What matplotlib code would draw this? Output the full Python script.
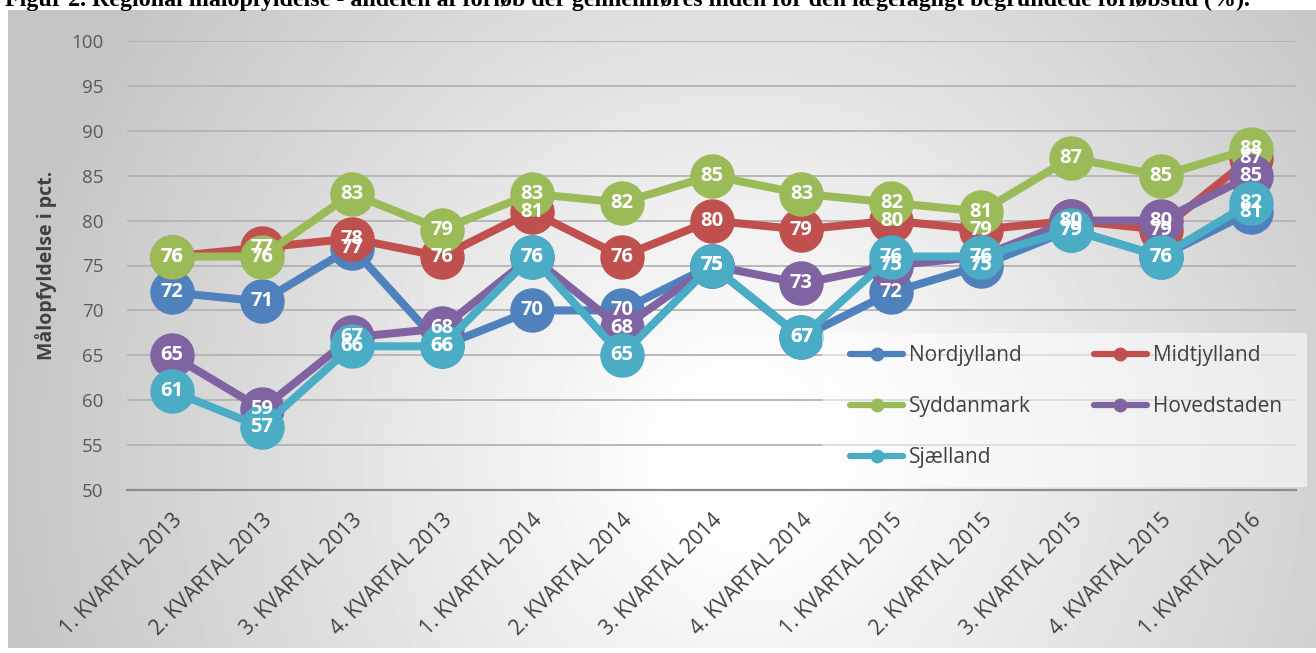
import matplotlib.pyplot as plt
from matplotlib.lines import Line2D
from matplotlib.patches import Rectangle
import numpy as np

# Kategorier og værdier.
kvartaler = ["1. KVARTAL 2013", "2. KVARTAL 2013", "3. KVARTAL 2013", "4. KVARTAL 2013",
             "1. KVARTAL 2014", "2. KVARTAL 2014", "3. KVARTAL 2014", "4. KVARTAL 2014",
             "1. KVARTAL 2015", "2. KVARTAL 2015", "3. KVARTAL 2015", "4. KVARTAL 2015",
             "1. KVARTAL 2016"]
nordjylland = [72, 71, 77, 66, 70, 70, 75, 67, 72, 75, 79, 76, 81]
midtjylland = [76, 77, 78, 76, 81, 76, 80, 79, 80, 79, 80, 79, 87]
syddanmark = [76, 76, 83, 79, 83, 82, 85, 83, 82, 81, 87, 85, 88]
hovedstaden = [65, 59, 67, 68, 76, 68, 75, 73, 75, 76, 80, 80, 85]
sjaelland = [61, 57, 66, 66, 76, 65, 75, 67, 76, 76, 79, 76, 82]

regioner = ["Nordjylland", "Midtjylland", "Syddanmark", "Hovedstaden", "Sjælland"]
serier = [nordjylland, midtjylland, syddanmark, hovedstaden, sjaelland]
farver = ["#4f81bd", "#c0504d", "#9bbb59", "#8064a2", "#4bacc6"]
yticks = list(range(50, 101, 5))

plt.rcParams["font.family"] = ["Open Sans", "DejaVu Sans"]

W, H = 1316, 653
fig = plt.figure(figsize=(W / 100, H / 100), dpi=100)

# Grå gradient-baggrund bag diagramområdet.
bg = fig.add_axes([8 / W, 5 / H, 1308 / W, 638 / H], zorder=-10)
gx, gy = np.meshgrid(np.linspace(0, 1, 400), np.linspace(0, 1, 200))
r = np.sqrt(((gx - 0.56) / 0.62) ** 2 + ((gy - 0.3) / 1.3) ** 2)
bg.imshow(np.clip(1.02 - 0.27 * r, 0.77, 1.0), cmap="gray", vmin=0, vmax=1,
          aspect="auto", extent=[0, 1, 0, 1], origin="lower")
bg.set_axis_off()

# Titlen er skåret af i toppen af billedet.
fig.text(0.004, 1 - 6 / H, "Figur 2. Regional målopfyldelse - andelen af forløb der gennemføres "
         "inden for den lægefagligt begrundede forløbstid (%).",
         family="Liberation Serif", fontweight="bold", fontsize=17.3, va="baseline")

ax = fig.add_axes([127 / W, 1 - 490 / H, (1296 - 127) / W, 449 / H])
ax.patch.set_alpha(0)
x = np.arange(len(kvartaler))

for i, (navn, vals, c) in enumerate(zip(regioner, serier, farver)):
    ax.plot(x, vals, color=c, lw=5.8, marker="o", markersize=31, zorder=3 + i,
            solid_capstyle="round")

# Dataetiketter over alle linjer.
for vals in serier:
    for xi, v in zip(x, vals):
        ax.text(xi, v, str(v), color="white", fontweight="bold", fontsize=14.5,
                ha="center", va="center", zorder=20)

ax.set_xlim(-0.5, 12.5)
ax.set_ylim(50, 100)
ax.set_yticks(yticks)
ax.yaxis.grid(True, color="#b3b3b3", lw=1.3)
ax.set_axisbelow(True)
for s in ["top", "right", "left"]:
    ax.spines[s].set_visible(False)
ax.spines["bottom"].set_color("#8c8c8c")
ax.spines["bottom"].set_linewidth(1.6)
ax.tick_params(axis="y", length=0, pad=17, labelsize=13.5, labelcolor="#595959")
ax.tick_params(axis="x", length=0, pad=14, labelsize=15, labelcolor="#404040")
ax.set_xticks(x)
ax.set_xticklabels(kvartaler, rotation=45, ha="right", rotation_mode="anchor")

ax.set_ylabel("Målopfyldelse i pct.", fontweight="bold", fontsize=14,
              color="#404040", labelpad=10)

# Lys baggrund bag forklaringen.
fig.patches.append(Rectangle((822 / W, 1 - 487 / H), 485 / W, 154 / H,
                             transform=fig.transFigure, facecolor="white",
                             alpha=0.55, edgecolor="none", zorder=4))

# Forklaring i to kolonner, rækkevis.
handles = [Line2D([], [], color=c, lw=4.5, marker="o", markersize=9,
                  solid_capstyle="round") for c in farver]
order = [0, 2, 4, 1, 3]
leg = fig.legend([handles[k] for k in order], [regioner[k] for k in order],
                 ncol=2, loc="upper left", bbox_to_anchor=(850 / W, 1 - 345 / H),
                 fontsize=15, frameon=False, handlelength=2.55,
                 labelspacing=1.45, columnspacing=3.0, handletextpad=0.3,
                 borderpad=0, borderaxespad=0, labelcolor="#404040")
leg.set_zorder(5)

fig.savefig("out.png", dpi=100)
